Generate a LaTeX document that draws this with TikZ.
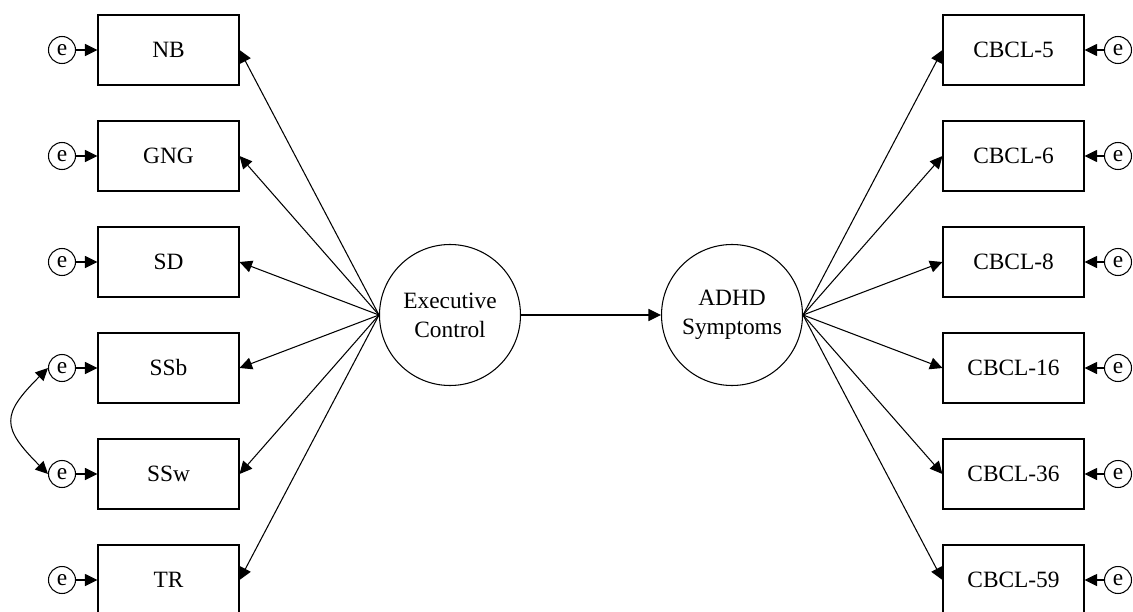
\documentclass[tikz,border=0pt]{standalone}
\usepackage{fontspec}
\setmainfont{Liberation Serif}
\usepackage{tikz}
\usetikzlibrary{arrows.meta,positioning,calc}

\begin{document}
\begin{tikzpicture}[
    line width=0.6pt, >={Triangle[length=2.5mm, width=2.4mm]},
    font=\fontsize{13.3}{16.5}\selectfont,
    obs/.style={rectangle, draw, minimum width=28.2mm, minimum height=14mm},
    lat/.style={circle, draw, minimum size=28.2mm, align=center, inner sep=0pt},
    err/.style={circle, draw, minimum size=5.4mm, inner sep=0pt}
  ]
  \useasboundingbox (0,0) rectangle (22.66,-12.24);

  % executive control indicators
  \node[obs] (nb)  at (3.37, -1.0)  {NB};
  \node[obs] (gng) at (3.37, -3.12) {GNG};
  \node[obs] (sd)  at (3.37, -5.24) {SD};
  \node[obs] (ssb) at (3.37, -7.36) {SSb};
  \node[obs] (ssw) at (3.37, -9.48) {SSw};
  \node[obs] (tr)  at (3.37, -11.6) {TR};

  \node[err] (enb)  at (1.24, -1.0)  {e};
  \node[err] (egng) at (1.24, -3.12) {e};
  \node[err] (esd)  at (1.24, -5.24) {e};
  \node[err] (essb) at (1.24, -7.36) {e};
  \node[err] (essw) at (1.24, -9.48) {e};
  \node[err] (etr)  at (1.24, -11.6) {e};

  % ADHD indicators
  \node[obs] (c5)  at (20.27, -1.0)  {CBCL-5};
  \node[obs] (c6)  at (20.27, -3.12) {CBCL-6};
  \node[obs] (c8)  at (20.27, -5.24) {CBCL-8};
  \node[obs] (c16) at (20.27, -7.36) {CBCL-16};
  \node[obs] (c36) at (20.27, -9.48) {CBCL-36};
  \node[obs] (c59) at (20.27, -11.6) {CBCL-59};

  \node[err] (ec5)  at (22.36, -1.0)  {e};
  \node[err] (ec6)  at (22.36, -3.12) {e};
  \node[err] (ec8)  at (22.36, -5.24) {e};
  \node[err] (ec16) at (22.36, -7.36) {e};
  \node[err] (ec36) at (22.36, -9.48) {e};
  \node[err] (ec59) at (22.36, -11.6) {e};

  % latent variables
  \node[lat] (exc)  at (9.0, -6.3)   {Executive\\Control};
  \node[lat] (adhd) at (14.64, -6.3) {ADHD\\Symptoms};

  \draw[->] (exc) -- (adhd);

  \draw[->] (exc.west) -- (nb.east);
  \draw[->] (exc.west) -- (gng.east);
  \draw[->] (exc.west) -- (sd.east);
  \draw[->] (exc.west) -- (ssb.east);
  \draw[->] (exc.west) -- (ssw.east);
  \draw[->] (exc.west) -- (tr.east);

  \draw[->] (adhd.east) -- (c5.west);
  \draw[->] (adhd.east) -- (c6.west);
  \draw[->] (adhd.east) -- (c8.west);
  \draw[->] (adhd.east) -- (c16.west);
  \draw[->] (adhd.east) -- (c36.west);
  \draw[->] (adhd.east) -- (c59.west);

  \draw[->] (enb) -- (nb);
  \draw[->] (egng) -- (gng);
  \draw[->] (esd) -- (sd);
  \draw[->] (essb) -- (ssb);
  \draw[->] (essw) -- (ssw);
  \draw[->] (etr) -- (tr);

  \draw[->] (ec5) -- (c5);
  \draw[->] (ec6) -- (c6);
  \draw[->] (ec8) -- (c8);
  \draw[->] (ec16) -- (c16);
  \draw[->] (ec36) -- (c36);
  \draw[->] (ec59) -- (c59);

  % correlated errors
  \draw[<->] (essb.west) to[out=225, in=135, looseness=1.6] (essw.west);
\end{tikzpicture}
\end{document}
